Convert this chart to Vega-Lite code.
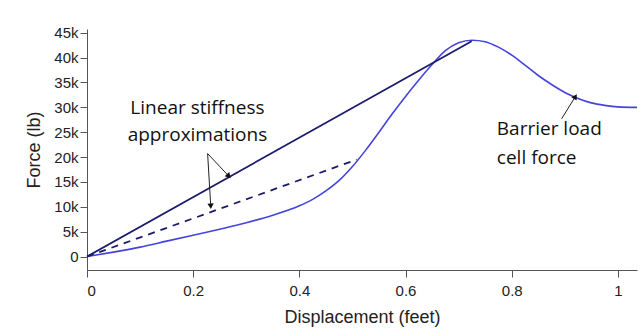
{
  "$schema": "https://vega.github.io/schema/vega-lite/v6.json",
  "width": 550,
  "height": 241,
  "autosize": "none",
  "padding": {"left": 87, "top": 29, "right": 3, "bottom": 63},
  "background": "white",
  "config": {
    "view": {"stroke": null},
    "axis": {
      "grid": false,
      "domainColor": "#555555",
      "tickColor": "#555555",
      "labelColor": "#222222",
      "titleColor": "#222222",
      "labelFont": "Liberation Sans",
      "titleFont": "Liberation Sans",
      "labelFontSize": 15,
      "titleFontSize": 18,
      "titleFontWeight": "normal",
      "tickSize": 7
    }
  },
  "datasets": {
    "curve": [
      {"d": 0, "f": 0}, {"d": 0.05, "f": 900}, {"d": 0.1, "f": 1900}, {"d": 0.15, "f": 3100},
      {"d": 0.2, "f": 4300}, {"d": 0.25, "f": 5500}, {"d": 0.3, "f": 6800}, {"d": 0.35, "f": 8300},
      {"d": 0.4, "f": 10200}, {"d": 0.425, "f": 11500}, {"d": 0.45, "f": 13200}, {"d": 0.475, "f": 15300},
      {"d": 0.5, "f": 18100}, {"d": 0.525, "f": 21400}, {"d": 0.55, "f": 25000}, {"d": 0.575, "f": 28700},
      {"d": 0.6, "f": 32200}, {"d": 0.625, "f": 35500}, {"d": 0.65, "f": 38600}, {"d": 0.675, "f": 41400},
      {"d": 0.7, "f": 43000}, {"d": 0.725, "f": 43500}, {"d": 0.75, "f": 43200}, {"d": 0.775, "f": 42100},
      {"d": 0.8, "f": 40500}, {"d": 0.825, "f": 38500}, {"d": 0.85, "f": 36400}, {"d": 0.875, "f": 34600},
      {"d": 0.9, "f": 33000}, {"d": 0.925, "f": 31800}, {"d": 0.95, "f": 30900}, {"d": 0.975, "f": 30400},
      {"d": 1.0, "f": 30100}, {"d": 1.036, "f": 30000}
    ],
    "solid": [{"d": 0, "f": 0}, {"d": 0.7245, "f": 43300}],
    "dashed": [{"d": 0, "f": 0}, {"d": 0.508, "f": 19500}],
    "arrows": [
      {"d": 0.2272, "f": 20700, "d2": 0.266, "f2": 16300},
      {"d": 0.2272, "f": 20700, "d2": 0.233, "f2": 10300},
      {"d": 0.894, "f": 27700, "d2": 0.919, "f2": 32000}
    ],
    "labels": [
      {"d": 0.208, "f": 29900, "t": "Linear stiffness", "a": "center"},
      {"d": 0.208, "f": 24500, "t": "approximations", "a": "center"},
      {"d": 0.772, "f": 25700, "t": "Barrier load", "a": "left"},
      {"d": 0.772, "f": 19900, "t": "cell force", "a": "left"}
    ]
  },
  "encoding": {
    "x": {
      "field": "d", "type": "quantitative",
      "scale": {"domain": [0, 1.036], "nice": false, "zero": false},
      "axis": {"title": "Displacement (feet)", "values": [0, 0.2, 0.4, 0.6, 0.8, 1], "format": "~g", "labelPadding": 6, "titlePadding": 10}
    },
    "y": {
      "field": "f", "type": "quantitative",
      "scale": {"domain": [-2700, 45750], "nice": false, "zero": false},
      "axis": {"title": "Force (lb)", "values": [0, 5000, 10000, 15000, 20000, 25000, 30000, 35000, 40000, 45000],
               "labelExpr": "datum.value == 0 ? '0' : (datum.value / 1000) + 'k'", "labelPadding": 2, "titlePadding": 10}
    }
  },
  "layer": [
    {"data": {"name": "curve"}, "mark": {"type": "line", "color": "#4444dd", "strokeWidth": 1.6, "interpolate": "monotone"}},
    {"data": {"name": "solid"}, "mark": {"type": "line", "color": "#1c1c6c", "strokeWidth": 1.8}},
    {"data": {"name": "dashed"}, "mark": {"type": "line", "color": "#1c1c6c", "strokeWidth": 1.8, "strokeDash": [7, 6]}},
    {"data": {"name": "arrows"}, "mark": {"type": "rule", "color": "#222222", "strokeWidth": 1},
     "encoding": {"x2": {"field": "d2"}, "y2": {"field": "f2"}}},
    {"data": {"name": "arrows"}, "transform": [{"filter": "datum.d2 == 0.266"}],
     "mark": {"type": "point", "shape": "triangle", "filled": true, "color": "#111111", "size": 40, "angle": 136.5, "opacity": 1},
     "encoding": {"x": {"field": "d2", "type": "quantitative"}, "y": {"field": "f2", "type": "quantitative"}}},
    {"data": {"name": "arrows"}, "transform": [{"filter": "datum.d2 == 0.233"}],
     "mark": {"type": "point", "shape": "triangle", "filled": true, "color": "#111111", "size": 40, "angle": 176.7, "opacity": 1},
     "encoding": {"x": {"field": "d2", "type": "quantitative"}, "y": {"field": "f2", "type": "quantitative"}}},
    {"data": {"name": "arrows"}, "transform": [{"filter": "datum.d2 == 0.919"}],
     "mark": {"type": "point", "shape": "triangle", "filled": true, "color": "#111111", "size": 40, "angle": 31.6, "opacity": 1},
     "encoding": {"x": {"field": "d2", "type": "quantitative"}, "y": {"field": "f2", "type": "quantitative"}}},
    {"data": {"name": "labels"}, "transform": [{"filter": "datum.a == 'center'"}],
     "mark": {"type": "text", "font": "Open Sans", "fontSize": 19, "color": "#111111", "align": "center", "baseline": "middle"},
     "encoding": {"text": {"field": "t"}}},
    {"data": {"name": "labels"}, "transform": [{"filter": "datum.a == 'left'"}],
     "mark": {"type": "text", "font": "Open Sans", "fontSize": 19, "color": "#111111", "align": "left", "baseline": "middle"},
     "encoding": {"text": {"field": "t"}}}
  ]
}
